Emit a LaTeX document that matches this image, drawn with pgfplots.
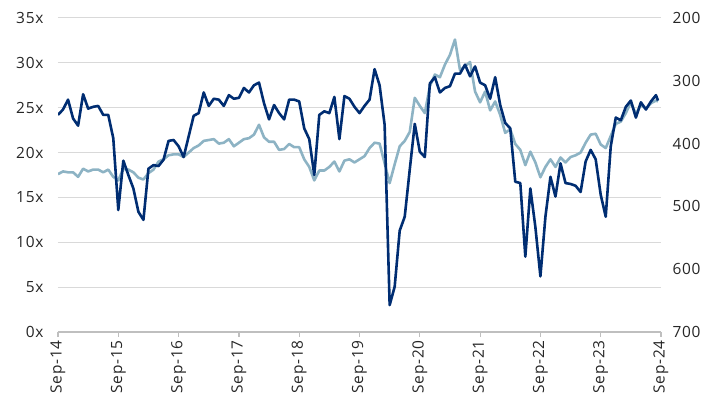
\documentclass[border=0pt]{standalone}
\usepackage{pgfplots}
\pgfplotsset{compat=1.18}
\usepackage{fontspec}
\setmainfont[LetterSpace=5]{Open Sans}
\definecolor{navy}{HTML}{002D72}
\definecolor{lightb}{HTML}{8DB3C4}
\definecolor{gridc}{HTML}{D9D9D9}
\definecolor{axc}{HTML}{BFBFBF}
\pgfplotsset{
  base/.style={width=603bp,height=314bp,scale only axis,
    xmin=0,xmax=120,at={(0,0)},anchor=south west,
    ticklabel style={font=\fontsize{15.5}{18}\selectfont,text=black!85},
    /pgf/number format/assume math mode=true},
}
\begin{document}
\begin{tikzpicture}
\useasboundingbox (-58bp,-85bp) rectangle (660bp,332bp);
% frame axis: grid, x axis, left labels
\begin{axis}[base,
  ymin=0,ymax=35,
  ytick={0,5,...,35},
  yticklabels={0x,5x,10x,15x,20x,25x,30x,35x},
  ymajorgrids, grid style={gridc,line width=1bp},
  axis x line*=bottom, axis y line*=left,
  x axis line style={axc,line width=1.5bp,-},
  y axis line style={draw=none},
  ytick style={draw=none},
  yticklabel style={xshift=-6bp},
  xtick={0,12,...,120},
  xticklabels={Sep-14,Sep-15,Sep-16,Sep-17,Sep-18,Sep-19,Sep-20,Sep-21,Sep-22,Sep-23,Sep-24},
  xticklabel style={rotate=90,anchor=east,xshift=0bp,yshift=0bp},
  tick align=outside, major tick length=5bp,
  xtick style={axc,line width=1.2bp},
]
\end{axis}
% right axis: light line
\begin{axis}[base,
  ymin=200,ymax=700,y dir=reverse,
  axis x line=none, axis y line*=right,
  y axis line style={draw=none},
  ytick={200,300,...,700},
  yticklabels={200,300,400,500,600,700},
  ytick style={draw=none},
  yticklabel style={xshift=8bp},
]
\addplot[lightb,line width=2.6bp,line join=round] coordinates {
(0,448.6)(1,444.3)(2,445.7)(3,445.7)(4,452.9)(5,440.0)(6,444.3)(7,441.4)(8,441.4)(9,445.7)
(10,441.4)(11,452.9)(12,458.6)(13,440.0)(14,441.4)(15,445.7)(16,454.3)(17,457.1)(18,447.1)(19,441.4)
(20,428.6)(21,425.0)(22,418.6)(23,417.1)(24,417.1)(25,421.4)(26,414.3)(27,407.1)(28,402.9)(29,395.7)
(30,394.3)(31,392.9)(32,400.0)(33,398.6)(34,392.9)(35,404.3)(36,398.6)(37,392.9)(38,391.4)(39,385.7)
(40,370.0)(41,390.0)(42,397.1)(43,397.1)(44,410.0)(45,408.6)(46,400.6)(47,405.7)(48,405.7)(49,425.0)
(50,437.1)(51,458.6)(52,442.9)(53,442.9)(54,437.1)(55,428.6)(56,444.3)(57,427.1)(58,425.0)(59,430.0)
(60,425.0)(61,420.0)(62,407.1)(63,398.6)(64,400.0)(65,431.4)(66,462.9)(67,432.9)(68,404.3)(69,395.7)
(70,381.4)(71,327.1)(72,340.0)(73,351.4)(74,308.6)(75,290.0)(76,294.3)(77,274.3)(78,258.6)(79,234.3)
(80,282.9)(81,277.1)(82,270.0)(83,317.1)(84,334.3)(85,317.1)(86,347.1)(87,332.9)(88,354.3)(89,382.9)
(90,377.1)(91,400.6)(92,410.0)(93,434.3)(94,412.9)(95,430.0)(96,453.6)(97,437.1)(98,425.0)(99,437.1)
(100,422.1)(101,430.0)(102,421.4)(103,418.6)(104,414.3)(105,398.6)(106,385.7)(107,384.3)(108,401.4)(109,407.1)
(110,387.9)(111,368.6)(112,365.0)(113,351.4)(114,334.3)(115,352.9)(116,338.6)(117,344.3)(118,335.7)(119,331.4)
(119.4,332.9)
};
\end{axis}
% left series: dark line
\begin{axis}[base,
  ymin=0,ymax=35,
  axis lines=none,
]
\addplot[navy,line width=2.6bp,line join=round] coordinates {
(0,24.2)(1,24.8)(2,25.9)(3,23.8)(4,23.0)(5,26.5)(6,24.9)(7,25.1)(8,25.2)(9,24.2)
(10,24.2)(11,21.6)(12,13.6)(13,19.1)(14,17.5)(15,16.0)(16,13.4)(17,12.5)(18,18.2)(19,18.6)
(20,18.5)(21,19.2)(22,21.3)(23,21.4)(24,20.7)(25,19.5)(26,21.8)(27,24.1)(28,24.4)(29,26.7)
(30,25.2)(31,26.0)(32,25.9)(33,25.2)(34,26.4)(35,26.0)(36,26.1)(37,27.2)(38,26.7)(39,27.5)
(40,27.8)(41,25.5)(42,23.7)(43,25.3)(44,24.4)(45,23.7)(46,25.9)(47,25.9)(48,25.7)(49,22.7)
(50,21.5)(51,17.5)(52,24.2)(53,24.6)(54,24.4)(55,26.2)(56,21.5)(57,26.3)(58,26.0)(59,25.1)
(60,24.4)(61,25.2)(62,25.9)(63,29.3)(64,27.5)(65,23.1)(66,3.0)(67,5.05)(68,11.3)(69,12.85)
(70,18.1)(71,23.2)(72,20.1)(73,19.5)(74,27.7)(75,28.4)(76,26.7)(77,27.2)(78,27.4)(79,28.8)
(80,28.8)(81,29.8)(82,28.5)(83,29.6)(84,27.8)(85,27.5)(86,26.0)(87,28.4)(88,25.3)(89,23.3)
(90,22.7)(91,16.75)(92,16.6)(93,8.4)(94,16.0)(95,11.7)(96,6.2)(97,12.85)(98,17.3)(99,15.1)
(100,18.8)(101,16.6)(102,16.5)(103,16.3)(104,15.6)(105,19.0)(106,20.3)(107,19.25)(108,15.3)(109,12.85)
(110,20.7)(111,23.9)(112,23.6)(113,25.1)(114,25.8)(115,23.9)(116,25.6)(117,24.8)(118,25.7)(119,26.4)
(119.4,25.8)
};
\end{axis}
\end{tikzpicture}
\end{document}
